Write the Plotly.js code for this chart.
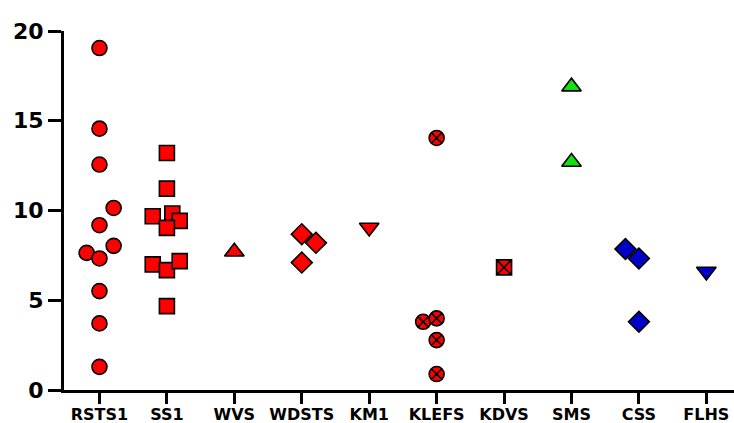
<!DOCTYPE html>
<html>
<head>
<meta charset="utf-8">
<script src="https://cdn.plot.ly/plotly-3.0.1.min.js"></script>
<style>html,body{margin:0;padding:0;background:#fff;}#chart{width:734px;height:423px;}</style>
</head>
<body>
<div id="chart"></div>
<script>
// Categories (x axis tick labels)
const categories = ['RSTS1', 'SS1', 'WVS', 'WDSTS', 'KM1', 'KLEFS', 'KDVS', 'SMS', 'CSS', 'FLHS'];

// Values per group
const rsts1 = [19.05, 14.56, 12.56, 10.14, 9.18, 8.03, 7.64, 7.33, 5.51, 3.71, 1.29];
const ss1   = [13.2, 11.22, 9.68, 9.83, 9.42, 9.03, 7.0, 6.68, 7.18, 4.67];
const wvs   = [7.7];
const wdsts = [8.68, 8.2, 7.1];
const km1   = [9.05];
const klefs = [14.04, 3.8, 3.99, 2.78, 0.89];
const kdvs  = [6.83];
const sms   = [16.9, 12.7];
const css   = [7.85, 7.33, 3.8];
const flhs  = [6.6];

// Horizontal scatter (jitter) of the points within each column, in category units
const rsts1Jitter = [0, 0, 0, 0.21, 0, 0.21, -0.19, 0, 0, 0, 0];
const ss1Jitter   = [0, 0, -0.21, 0.08, 0.19, 0, -0.21, 0, 0.19, 0];
const wvsJitter   = [0];
const wdstsJitter = [0, 0.21, 0];
const km1Jitter   = [0];
const klefsJitter = [0, -0.2, 0, 0, 0];
const kdvsJitter  = [0];
const smsJitter   = [0, 0];
const cssJitter   = [-0.2, 0, 0];
const flhsJitter  = [0];

const RED = '#ff0000', GREEN = '#11e011', BLUE = '#0000c8';

function group(idx, vals, jit, symbol, color, size) {
  return {
    type: 'scatter', mode: 'markers',
    x: vals.map((v, i) => idx + jit[i]),
    y: vals,
    cliponaxis: false,
    marker: {symbol: symbol, color: color, size: size, line: {color: '#000', width: 1.6}},
    hoverinfo: 'y', showlegend: false
  };
}

const data = [
  group(0, rsts1, rsts1Jitter, 'circle', RED, 15),
  group(1, ss1, ss1Jitter, 'square', RED, 15),
  group(2, wvs, wvsJitter, 'triangle-up', RED, 17),
  group(3, wdsts, wdstsJitter, 'diamond', RED, 16),
  group(4, km1, km1Jitter, 'triangle-down', RED, 17),
  group(5, klefs, klefsJitter, 'circle-x', RED, 15),
  group(6, kdvs, kdvsJitter, 'square-x', RED, 15),
  group(7, sms, smsJitter, 'triangle-up', GREEN, 17),
  group(8, css, cssJitter, 'diamond', BLUE, 16),
  group(9, flhs, flhsJitter, 'triangle-down', BLUE, 17)
];

const layout = {
  width: 734, height: 423,
  margin: {l: 63.5, r: 0, t: 30.5, b: 33},
  paper_bgcolor: '#fff', plot_bgcolor: '#fff',
  font: {family: 'DejaVu Sans', color: '#000'},
  xaxis: {
    range: [-0.526, 9.41], tickvals: categories.map((c, i) => i), ticktext: categories,
    showgrid: false, zeroline: false, showline: true, linecolor: '#000', linewidth: 3,
    ticks: 'outside', ticklen: 11, tickwidth: 3, tickcolor: '#000',
    ticklabelstandoff: -3,
    tickfont: {family: 'DejaVu Sans', size: 16, weight: 'bold', color: '#000'},
    fixedrange: true
  },
  yaxis: {
    range: [0, 20], tickvals: [0, 5, 10, 15, 20],
    showgrid: false, zeroline: false, showline: true, linecolor: '#000', linewidth: 3,
    ticks: 'outside', ticklen: 13, tickwidth: 3, tickcolor: '#000',
    tickfont: {family: 'DejaVu Sans', size: 22, weight: 'bold', color: '#000'},
    fixedrange: true
  }
};

Plotly.newPlot('chart', data, layout, {displayModeBar: false, staticPlot: true});
</script>
</body>
</html>
